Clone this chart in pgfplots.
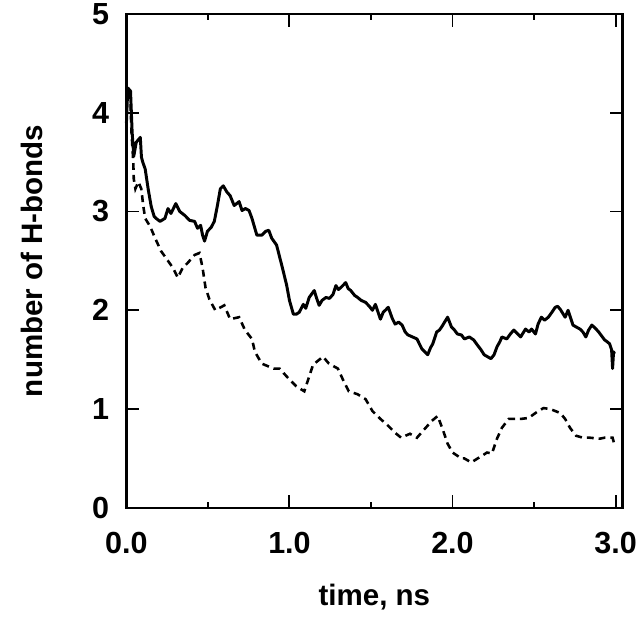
\documentclass[border=0pt]{standalone}
\usepackage{fontspec}
\setmainfont{Liberation Sans}
\usepackage{pgfplots}
\pgfplotsset{compat=1.18}
\begin{document}
\begin{tikzpicture}
\begin{axis}[
  scale only axis,
  width=502bp, height=500bp,
  xmin=0, xmax=3.042, ymin=0, ymax=5,
  xtick={0,1,2,3}, xticklabels={0.0,1.0,2.0,3.0},
  minor xtick={0.5,1.5,2.5},
  ytick={0,1,2,3,4,5},
  tick align=inside,
  major tick length=13bp, minor tick length=6bp,
  every tick/.style={line width=2bp, black},
  axis line style={line width=2.4bp},
  /pgf/number format/assume math mode=true,
  ticklabel style={font=\fontsize{31}{34}\selectfont\bfseries},
  xticklabel style={yshift=-21bp},
  yticklabel style={xshift=-14bp},
  xlabel={time, ns},
  ylabel={number of H-bonds},
  label style={font=\fontsize{30}{33}\selectfont\bfseries},
  xlabel style={at={(axis description cs:0.5,-0.18)}, anchor=center},
  ylabel style={at={(axis description cs:-0.19,0.5)}, anchor=center},
  clip=false,
]
\addplot[black, line width=3bp, line join=round] coordinates {
(0.000,3.90) (0.008,4.25) (0.025,4.22) (0.035,3.80) (0.045,3.56) (0.060,3.70)
(0.085,3.75) (0.092,3.55) (0.100,3.50) (0.115,3.43) (0.133,3.23) (0.152,3.05)
(0.170,2.95) (0.182,2.93) (0.206,2.90) (0.236,2.93) (0.255,3.03) (0.273,2.98)
(0.303,3.08) (0.327,3.00) (0.358,2.96) (0.388,2.91) (0.418,2.90) (0.436,2.83)
(0.455,2.86) (0.467,2.76) (0.479,2.70) (0.497,2.80) (0.520,2.84) (0.539,2.90)
(0.558,3.06) (0.576,3.23) (0.594,3.26) (0.615,3.20) (0.636,3.16) (0.661,3.06)
(0.691,3.10) (0.709,3.01) (0.730,3.03) (0.752,3.01) (0.770,2.93) (0.800,2.76)
(0.830,2.76) (0.855,2.80) (0.873,2.81) (0.891,2.73) (0.921,2.66) (0.952,2.46)
(0.982,2.26) (1.000,2.10) (1.024,1.96) (1.042,1.96) (1.060,1.98) (1.085,2.06)
(1.100,2.02) (1.121,2.13) (1.152,2.20) (1.167,2.12) (1.182,2.05) (1.200,2.10)
(1.224,2.13) (1.245,2.12) (1.267,2.16) (1.285,2.25) (1.300,2.21) (1.315,2.23)
(1.345,2.28) (1.360,2.22) (1.376,2.20) (1.400,2.15) (1.418,2.13) (1.440,2.10)
(1.467,2.08) (1.490,2.04) (1.509,2.00) (1.527,2.06) (1.558,1.91) (1.575,1.98)
(1.588,2.00) (1.606,2.03) (1.630,1.92) (1.648,1.86) (1.670,1.88) (1.691,1.85)
(1.710,1.78) (1.727,1.75) (1.755,1.73) (1.782,1.71) (1.800,1.65) (1.812,1.61)
(1.830,1.58) (1.848,1.55) (1.865,1.62) (1.879,1.66) (1.903,1.78) (1.920,1.80)
(1.933,1.83) (1.970,1.93) (1.994,1.83) (2.012,1.80) (2.030,1.76) (2.055,1.75)
(2.073,1.71) (2.103,1.73) (2.130,1.70) (2.152,1.65) (2.175,1.60) (2.194,1.55)
(2.236,1.51) (2.255,1.55) (2.273,1.63) (2.290,1.68) (2.303,1.73) (2.333,1.71)
(2.355,1.76) (2.376,1.80) (2.400,1.76) (2.418,1.73) (2.448,1.81) (2.470,1.78)
(2.485,1.81) (2.509,1.76) (2.525,1.86) (2.545,1.93) (2.565,1.90) (2.588,1.93)
(2.610,1.98) (2.630,2.03) (2.645,2.04) (2.661,2.01) (2.691,1.93) (2.709,2.00)
(2.739,1.85) (2.760,1.83) (2.782,1.81) (2.800,1.78) (2.818,1.73) (2.835,1.80)
(2.855,1.85) (2.875,1.82) (2.897,1.78) (2.915,1.74) (2.933,1.70) (2.950,1.68)
(2.964,1.66) (2.976,1.60) (2.982,1.41) (2.988,1.58) (2.994,1.56)
};
\addplot[black, line width=2.6bp, dash pattern=on 7bp off 5bp] coordinates {
(0.006,4.20) (0.024,4.16) (0.030,3.83) (0.042,3.50) (0.045,3.33) (0.055,3.23)
(0.073,3.30) (0.091,3.23) (0.103,3.06) (0.115,2.93) (0.145,2.85) (0.176,2.73)
(0.212,2.60) (0.255,2.50) (0.285,2.43) (0.315,2.33) (0.345,2.43) (0.376,2.48)
(0.418,2.56) (0.448,2.58) (0.467,2.43) (0.485,2.23) (0.509,2.11) (0.545,2.00)
(0.600,2.05) (0.636,1.91) (0.691,1.93) (0.727,1.80) (0.770,1.71) (0.788,1.58)
(0.830,1.46) (0.903,1.41) (0.939,1.41) (0.994,1.31) (1.042,1.23) (1.091,1.18)
(1.115,1.30) (1.145,1.45) (1.206,1.53) (1.242,1.46) (1.297,1.41) (1.333,1.28)
(1.364,1.18) (1.418,1.15) (1.467,1.10) (1.509,0.98) (1.558,0.90) (1.606,0.83)
(1.648,0.76) (1.685,0.71) (1.739,0.75) (1.782,0.71) (1.830,0.80) (1.873,0.88)
(1.909,0.93) (1.939,0.80) (1.970,0.65) (2.000,0.56) (2.055,0.50) (2.073,0.50)
(2.115,0.46) (2.164,0.51) (2.212,0.56) (2.242,0.55) (2.273,0.70) (2.303,0.81)
(2.345,0.90) (2.388,0.90) (2.418,0.90) (2.467,0.91) (2.509,0.96) (2.558,1.01)
(2.600,1.00) (2.661,0.96) (2.691,0.90) (2.721,0.81) (2.758,0.73) (2.800,0.71)
(2.842,0.71) (2.903,0.70) (2.933,0.71) (2.982,0.71) (2.990,0.66)
};
\end{axis}
\path ([shift={(-128bp,-110bp)}]current axis.south west) rectangle ([shift={(10bp,13bp)}]current axis.north east);
\end{tikzpicture}
\end{document}
